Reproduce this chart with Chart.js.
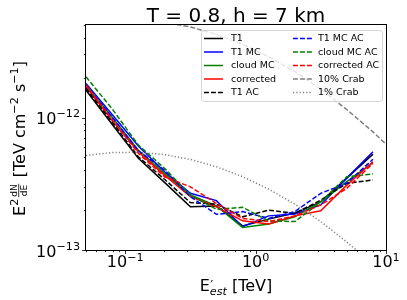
<!DOCTYPE html>
<html>
<head>
<meta charset="utf-8">
<style>
  html, body { margin: 0; padding: 0; background: #fff; }
  #wrap { width: 407px; height: 300px; }
</style>
</head>
<body>
<div id="wrap"><canvas id="sensChart" width="407" height="300"></canvas></div>
<script src="https://cdn.jsdelivr.net/npm/chart.js@4.4.0/dist/chart.umd.min.js"></script>
<script>
// Energy bins (TeV) and E^2 dN/dE values (TeV cm^-2 s^-1)
const energy = [0.05, 0.079, 0.126, 0.2, 0.316, 0.5, 0.794, 1.26, 2.0, 3.16, 5.0, 7.94];

const t1        = [1.61e-12, 8.93e-13, 4.92e-13, 3.24e-13, 2.12e-13, 2.15e-13, 1.52e-13, 1.71e-13, 1.90e-13, 2.31e-13, 3.49e-13, 5.30e-13];
const t1Mc      = [1.81e-12, 1.06e-12, 6.10e-13, 3.90e-13, 2.68e-13, 2.36e-13, 1.50e-13, 1.81e-13, 1.87e-13, 2.19e-13, 3.49e-13, 5.52e-13];
const cloudMc   = [1.76e-12, 1.01e-12, 5.68e-13, 3.79e-13, 2.60e-13, 2.15e-13, 1.48e-13, 1.57e-13, 1.78e-13, 2.31e-13, 3.28e-13, 4.56e-13];
const corrected = [1.71e-12, 9.57e-13, 5.52e-13, 3.68e-13, 2.53e-13, 2.12e-13, 1.66e-13, 1.57e-13, 1.81e-13, 1.98e-13, 3.09e-13, 4.64e-13];
const t1Ac      = [1.66e-12, 9.30e-13, 5.06e-13, 3.42e-13, 2.28e-13, 2.22e-13, 1.78e-13, 2.00e-13, 1.89e-13, 2.38e-13, 3.19e-13, 3.38e-13];
const t1McAc    = [1.76e-12, 1.01e-12, 5.62e-13, 4.02e-13, 2.53e-13, 1.86e-13, 1.95e-13, 1.73e-13, 1.95e-13, 2.68e-13, 3.19e-13, 4.84e-13];
const cloudMcAc = [2.03e-12, 1.17e-12, 6.20e-13, 4.14e-13, 2.60e-13, 2.03e-13, 2.10e-13, 1.66e-13, 1.64e-13, 2.31e-13, 3.57e-13, 3.75e-13];
const corrAc    = [1.76e-12, 9.69e-13, 5.37e-13, 3.57e-13, 3.00e-13, 2.25e-13, 1.73e-13, 1.64e-13, 1.81e-13, 2.19e-13, 2.92e-13, 4.51e-13];

// Crab reference curves
const crabEnergy = [0.05, 0.079, 0.126, 0.2, 0.316, 0.5, 0.794, 1.26, 2.0, 3.16, 5.0, 7.94, 10];
const crab10 = [5.18e-12, 5.44e-12, 5.47e-12, 5.25e-12, 4.83e-12, 4.25e-12, 3.58e-12, 2.88e-12, 2.22e-12, 1.64e-12, 1.15e-12, 7.8e-13, 6.3e-13];
const crab1  = [5.18e-13, 5.44e-13, 5.47e-13, 5.25e-13, 4.83e-13, 4.25e-13, 3.58e-13, 2.88e-13, 2.22e-13, 1.64e-13, 1.15e-13, 7.8e-14, 6.3e-14];

// Tick positions
const xTicks = [0.05, 0.06, 0.07, 0.08, 0.09, 0.1, 0.2, 0.3, 0.4, 0.5, 0.6, 0.7, 0.8, 0.9,
                1, 2, 3, 4, 5, 6, 7, 8, 9, 10];
const yTicks = [1e-13, 2e-13, 3e-13, 4e-13, 5e-13, 6e-13, 7e-13, 8e-13, 9e-13,
                1e-12, 2e-12, 3e-12, 4e-12, 5e-12];

const FONT = '"DejaVu Sans", sans-serif';
const DASH = [4.9, 2.1];
const DOT = [1.2, 2.1];

function pts(xs, ys) {
    return xs.map((x, i) => ({ x: x, y: ys[i] }));
}

function series(label, xs, ys, color, dash) {
    return {
        label: label,
        data: pts(xs, ys),
        borderColor: color,
        borderWidth: 1.5,
        borderDash: dash || [],
        pointRadius: 0,
        fill: false,
        tension: 0
    };
}

const datasets = [
    series('T1', energy, t1, '#000000'),
    series('T1 MC', energy, t1Mc, '#0000ff'),
    series('cloud MC', energy, cloudMc, '#008000'),
    series('corrected', energy, corrected, '#ff0000'),
    series('T1 AC', energy, t1Ac, '#000000', DASH),
    series('T1 MC AC', energy, t1McAc, '#0000ff', DASH),
    series('cloud MC AC', energy, cloudMcAc, '#008000', DASH),
    series('corrected AC', energy, corrAc, '#ff0000', DASH),
    series('10% Crab', crabEnergy, crab10, '#808080', DASH),
    series('1% Crab', crabEnergy, crab1, '#808080', DOT)
];
// matplotlib draws later lines on top
datasets.forEach((d, i) => { d.order = datasets.length - i; });

function isPow10(v) {
    const l = Math.log10(v);
    return Math.abs(l - Math.round(l)) < 1e-6;
}

// "10" with a raised exponent, like mathtext
function drawPow(ctx, exp, x, y, align) {
    const base = '10';
    const sup = exp < 0 ? '\u2212' + (-exp) : String(exp);
    ctx.font = '16px ' + FONT;
    const wb = ctx.measureText(base).width;
    ctx.font = '11.2px ' + FONT;
    const ws = ctx.measureText(sup).width;
    const x0 = align === 'right' ? x - wb - ws : x - (wb + ws) / 2;
    ctx.textAlign = 'left';
    ctx.textBaseline = 'alphabetic';
    ctx.font = '16px ' + FONT;
    ctx.fillText(base, x0, y);
    ctx.font = '11.2px ' + FONT;
    ctx.fillText(sup, x0 + wb, y - 6.8);
}

const decor = {
    id: 'decor',
    afterDraw(chart) {
        const ctx = chart.ctx;
        const a = chart.chartArea;
        const xs = chart.scales.x, ys = chart.scales.y;
        ctx.save();
        ctx.fillStyle = '#000';
        ctx.strokeStyle = '#000';

        // frame
        ctx.lineWidth = 1;
        ctx.strokeRect(Math.round(a.left) - 0.5, Math.round(a.top) - 0.5,
                       Math.round(a.right - a.left) + 1, Math.round(a.bottom - a.top) + 1);

        // ticks + labels
        ctx.lineWidth = 0.8;
        xs.ticks.forEach(t => {
            const px = Math.round(xs.getPixelForValue(t.value)) + 0.5;
            const major = isPow10(t.value);
            ctx.beginPath();
            ctx.moveTo(px, a.bottom);
            ctx.lineTo(px, a.bottom + (major ? 4 : 2.2));
            ctx.stroke();
            if (major) drawPow(ctx, Math.round(Math.log10(t.value)), xs.getPixelForValue(t.value), a.bottom + 17.3, 'center');
        });
        ys.ticks.forEach(t => {
            const py = Math.round(ys.getPixelForValue(t.value)) + 0.5;
            const major = isPow10(t.value);
            ctx.beginPath();
            ctx.moveTo(a.left, py);
            ctx.lineTo(a.left - (major ? 4 : 2.2), py);
            ctx.stroke();
            if (major) drawPow(ctx, Math.round(Math.log10(t.value)), a.left - 6, ys.getPixelForValue(t.value) + 6.5, 'right');
        });

        // title
        ctx.font = '20px ' + FONT;
        ctx.textAlign = 'center';
        ctx.textBaseline = 'alphabetic';
        ctx.fillText('T = 0.8, h = 7 km', (a.left + a.right) / 2, 22);

        // x axis label: E'_est [TeV]
        ctx.textAlign = 'left';
        ctx.font = '16px ' + FONT;
        const wE = ctx.measureText('E').width;
        const wRest = ctx.measureText(' [TeV]').width;
        ctx.font = 'italic 11.2px ' + FONT;
        const wSub = ctx.measureText('est').width;
        let x0 = (a.left + a.right) / 2 - (wE + wSub + wRest) / 2;
        const xb = 291;
        ctx.font = '16px ' + FONT;
        ctx.fillText('E', x0, xb);
        ctx.font = '13px ' + FONT;
        ctx.fillText('\u2032', x0 + wE + 0.5, xb - 2);
        ctx.font = 'italic 11.2px ' + FONT;
        ctx.fillText('est', x0 + wE, xb + 3.5);
        ctx.font = '16px ' + FONT;
        ctx.fillText(' [TeV]', x0 + wE + wSub, xb);

        // y axis label: E^2 dN/dE [TeV cm^-2 s^-1]
        ctx.save();
        ctx.translate(24.5, (a.top + a.bottom) / 2 + 1);
        ctx.rotate(-Math.PI / 2);
        const parts = [
            { t: 'E', f: '16px ', dy: 0 },
            { t: '2', f: '11.2px ', dy: -6.8 },
            { frac: true },
            { t: ' [TeV cm', f: '16px ', dy: 0 },
            { t: '\u22122', f: '11.2px ', dy: -6.8 },
            { t: ' s', f: '16px ', dy: 0 },
            { t: '\u22121', f: '11.2px ', dy: -6.8 },
            { t: ']', f: '16px ', dy: 0 }
        ];
        ctx.font = '9px ' + FONT;
        const fracW = Math.max(ctx.measureText('dN').width, ctx.measureText('dE').width) + 1;
        let total = 0;
        parts.forEach(p => {
            if (p.frac) { p.w = fracW + 3; } else { ctx.font = p.f + FONT; p.w = ctx.measureText(p.t).width; }
            total += p.w;
        });
        let cx = -total / 2;
        parts.forEach(p => {
            if (p.frac) {
                const mid = cx + p.w / 2;
                ctx.font = '9px ' + FONT;
                ctx.textAlign = 'center';
                ctx.fillText('dN', mid, -7.6);
                ctx.fillText('dE', mid, 2.4);
                ctx.lineWidth = 0.8;
                ctx.beginPath();
                ctx.moveTo(mid - fracW / 2, -5.8);
                ctx.lineTo(mid + fracW / 2, -5.8);
                ctx.stroke();
                ctx.textAlign = 'left';
            } else {
                ctx.font = p.f + FONT;
                ctx.fillText(p.t, cx, p.dy);
            }
            cx += p.w;
        });
        ctx.restore();

        // legend (two columns, column-major like matplotlib)
        const lx = 201, ly = 30, lw = 181, lh = 71;
        ctx.beginPath();
        ctx.roundRect(lx + 0.5, ly + 0.5, lw, lh, 3);
        ctx.fillStyle = 'rgba(255,255,255,0.8)';
        ctx.fill();
        ctx.strokeStyle = 'rgba(204,204,204,0.8)';
        ctx.lineWidth = 1;
        ctx.stroke();
        const rows = [38.5, 52, 65.5, 79, 92.5];
        const cols = [{ l: 204, r: 223, t: 231 }, { l: 293, r: 312, t: 318 }];
        ctx.font = '9.5px ' + FONT;
        ctx.textBaseline = 'middle';
        chart.data.datasets.forEach((d, i) => {
            const c = cols[Math.floor(i / 5)];
            const y = rows[i % 5];
            ctx.strokeStyle = d.borderColor;
            ctx.lineWidth = 1.5;
            ctx.setLineDash(d.borderDash);
            ctx.beginPath();
            ctx.moveTo(c.l, y);
            ctx.lineTo(c.r, y);
            ctx.stroke();
            ctx.setLineDash([]);
            ctx.fillStyle = '#000';
            ctx.fillText(d.label, c.t, y + 0.5);
        });
        ctx.restore();
    }
};

const chart = new Chart(document.getElementById('sensChart'), {
    type: 'line',
    data: { datasets: datasets },
    options: {
        responsive: false,
        animation: false,
        devicePixelRatio: 1,
        layout: { padding: { top: 25, right: 21, left: 0, bottom: 0 } },
        plugins: {
            legend: { display: false },
            title: { display: false },
            tooltip: { enabled: false }
        },
        scales: {
            x: {
                type: 'logarithmic',
                min: 0.05,
                max: 10,
                grid: { display: false, drawTicks: false },
                border: { display: false },
                ticks: { display: false },
                afterBuildTicks: s => { s.ticks = xTicks.map(v => ({ value: v })); },
                afterFit: s => { s.height = 50; }
            },
            y: {
                type: 'logarithmic',
                min: 1e-13,
                max: 5e-12,
                grid: { display: false, drawTicks: false },
                border: { display: false },
                ticks: { display: false },
                afterBuildTicks: s => { s.ticks = yTicks.map(v => ({ value: v })); },
                afterFit: s => { s.width = 86; }
            }
        }
    },
    plugins: [decor]
});
</script>
</body>
</html>
